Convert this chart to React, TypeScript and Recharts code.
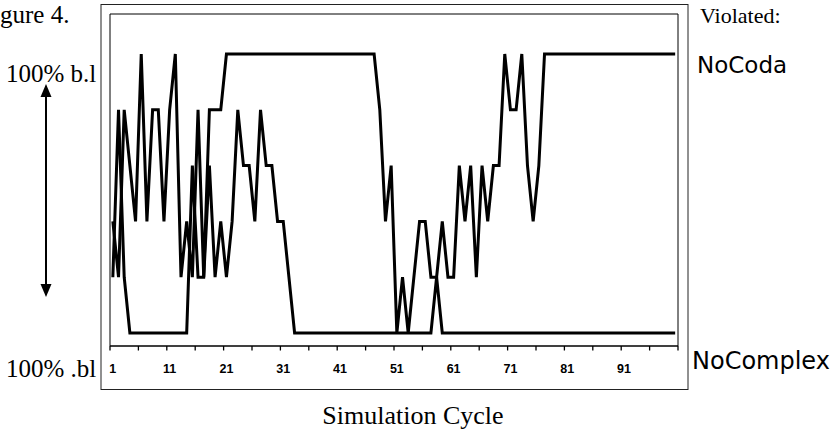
import React from 'react';
import { LineChart, Line, XAxis, YAxis, ReferenceArea } from 'recharts';

// Simulation cycles 1..100 (category axis)
const cycles: number[] = Array.from({ length: 100 }, (_, i) => i + 1);

// Level of each run per cycle (0 = bottom "100% .bl", 5 = top "100% b.l")
const seriesA: number[] = [
  2, 1, 4, 3, 2, 5, 2, 4, 4, 2,
  4, 5, 1, 2, 1, 4, 1, 4, 4, 4,
  5, 5, 5, 5, 5, 5, 5, 5, 5, 5,
  5, 5, 5, 5, 5, 5, 5, 5, 5, 5,
  5, 5, 5, 5, 5, 5, 5, 4, 2, 3,
  0, 1, 0, 1, 2, 2, 1, 1, 2, 1,
  1, 3, 2, 3, 1, 3, 2, 3, 3, 5,
  4, 4, 5, 3, 2, 3, 5, 5, 5, 5,
  5, 5, 5, 5, 5, 5, 5, 5, 5, 5,
  5, 5, 5, 5, 5, 5, 5, 5, 5, 5,
];

const seriesB: number[] = [
  1, 4, 1, 0, 0, 0, 0, 0, 0, 0,
  0, 0, 0, 0, 3, 1, 1, 3, 1, 2,
  1, 2, 4, 3, 3, 2, 4, 3, 3, 2,
  2, 1, 0, 0, 0, 0, 0, 0, 0, 0,
  0, 0, 0, 0, 0, 0, 0, 0, 0, 0,
  0, 0, 0, 0, 0, 0, 0, 1, 0, 0,
  0, 0, 0, 0, 0, 0, 0, 0, 0, 0,
  0, 0, 0, 0, 0, 0, 0, 0, 0, 0,
  0, 0, 0, 0, 0, 0, 0, 0, 0, 0,
  0, 0, 0, 0, 0, 0, 0, 0, 0, 0,
];

// tick marks sit on category boundaries every 5 cycles; labels on cycles 1, 11, ...
const tickMarks: number[] = [
  0.5, 5.5, 10.5, 15.5, 20.5, 25.5, 30.5, 35.5, 40.5, 45.5, 50.5,
  55.5, 60.5, 65.5, 70.5, 75.5, 80.5, 85.5, 90.5, 95.5, 100.5,
];
const tickLabels: number[] = [1, 11, 21, 31, 41, 51, 61, 71, 81, 91];

const xDomain: [number, number] = [0.5, 100.5];
const yDomain: [number, number] = [-0.233, 5.717];

const CHART_W = 840;
const MARGIN = { top: 14, right: 162, bottom: 54, left: 110 };
const PLOT_W = CHART_W - MARGIN.left - MARGIN.right;
const PX_PER_UNIT = PLOT_W / (xDomain[1] - xDomain[0]);
const TICK_SIZE = 4;
const TICK_MARGIN = 14;

const SERIF = '"Liberation Serif", "Times New Roman", serif';
const SANS = '"DejaVu Sans", Verdana, sans-serif';

function BoundaryTick(props: any) {
  const { x, y, payload } = props;
  const cycle = payload.value + 0.5;
  const top = y - TICK_MARGIN - TICK_SIZE;
  return (
    <g>
      <line
        x1={x}
        x2={x}
        y1={top}
        y2={top + TICK_SIZE + 0.5}
        stroke="#000"
        strokeWidth={1.3}
      />
      {tickLabels.includes(cycle) && (
        <text
          x={x + 0.5 * PX_PER_UNIT}
          y={y}
          dy="0.71em"
          textAnchor="middle"
          fill="#000"
          fontFamily='"Liberation Sans", Arial, sans-serif'
          fontSize={12.5}
          fontWeight={700}
        >
          {cycle}
        </text>
      )}
    </g>
  );
}

export default function App() {
  const data = cycles.map((c, i) => ({ cycle: c, a: seriesA[i], b: seriesB[i] }));
  return (
    <div style={{ position: 'absolute', left: 0, top: 0, width: 840, height: 430, background: '#fff' }}>
      <LineChart width={CHART_W} height={430} data={data} margin={MARGIN}>
        <XAxis
          dataKey="cycle"
          type="number"
          domain={xDomain}
          allowDataOverflow
          ticks={tickMarks}
          interval={0}
          tickSize={TICK_SIZE}
          tickMargin={TICK_MARGIN}
          height={30}
          axisLine={{ stroke: '#000', strokeWidth: 1 }}
          tickLine={false}
          tick={<BoundaryTick />}
        />
        <YAxis type="number" domain={yDomain} allowDataOverflow hide />
        <ReferenceArea
          x1={xDomain[0]}
          x2={xDomain[1]}
          y1={yDomain[0]}
          y2={yDomain[1]}
          fill="none"
          fillOpacity={0}
          stroke="#000"
          strokeWidth={1}
        />
        <Line
          dataKey="a"
          type="linear"
          stroke="#000"
          strokeWidth={3}
          dot={false}
          activeDot={false}
          isAnimationActive={false}
        />
        <Line
          dataKey="b"
          type="linear"
          stroke="#000"
          strokeWidth={3}
          dot={false}
          activeDot={false}
          isAnimationActive={false}
        />
      </LineChart>
      <svg
        width={840}
        height={430}
        style={{ position: 'absolute', left: 0, top: 0, pointerEvents: 'none' }}
      >
        <rect x={101} y={4.5} width={587} height={385} fill="none" stroke="#222" strokeWidth={1} />
        <text x={0} y={23} fontFamily={SERIF} fontSize={25} fill="#000">gure 4.</text>
        <text x={6} y={82} fontFamily={SERIF} fontSize={25} fill="#000">100% b.l</text>
        <text x={6} y={377} fontFamily={SERIF} fontSize={25} fill="#000">100% .bl</text>
        <text x={700} y={23} fontFamily={SERIF} fontSize={22} fill="#000">Violated:</text>
        <text x={697} y={73} fontFamily={SANS} fontSize={23} fill="#000">NoCoda</text>
        <text x={692} y={369} fontFamily={SANS} fontSize={24} fill="#000">NoComplex</text>
        <text x={413} y={424} textAnchor="middle" fontFamily={SERIF} fontSize={26} fill="#000">Simulation Cycle</text>
        <line x1={46} y1={95} x2={46} y2={286} stroke="#000" strokeWidth={2} />
        <polygon points="46,84 40.5,97 51.5,97" fill="#000" />
        <polygon points="46,297 40.5,284 51.5,284" fill="#000" />
      </svg>
    </div>
  );
}
